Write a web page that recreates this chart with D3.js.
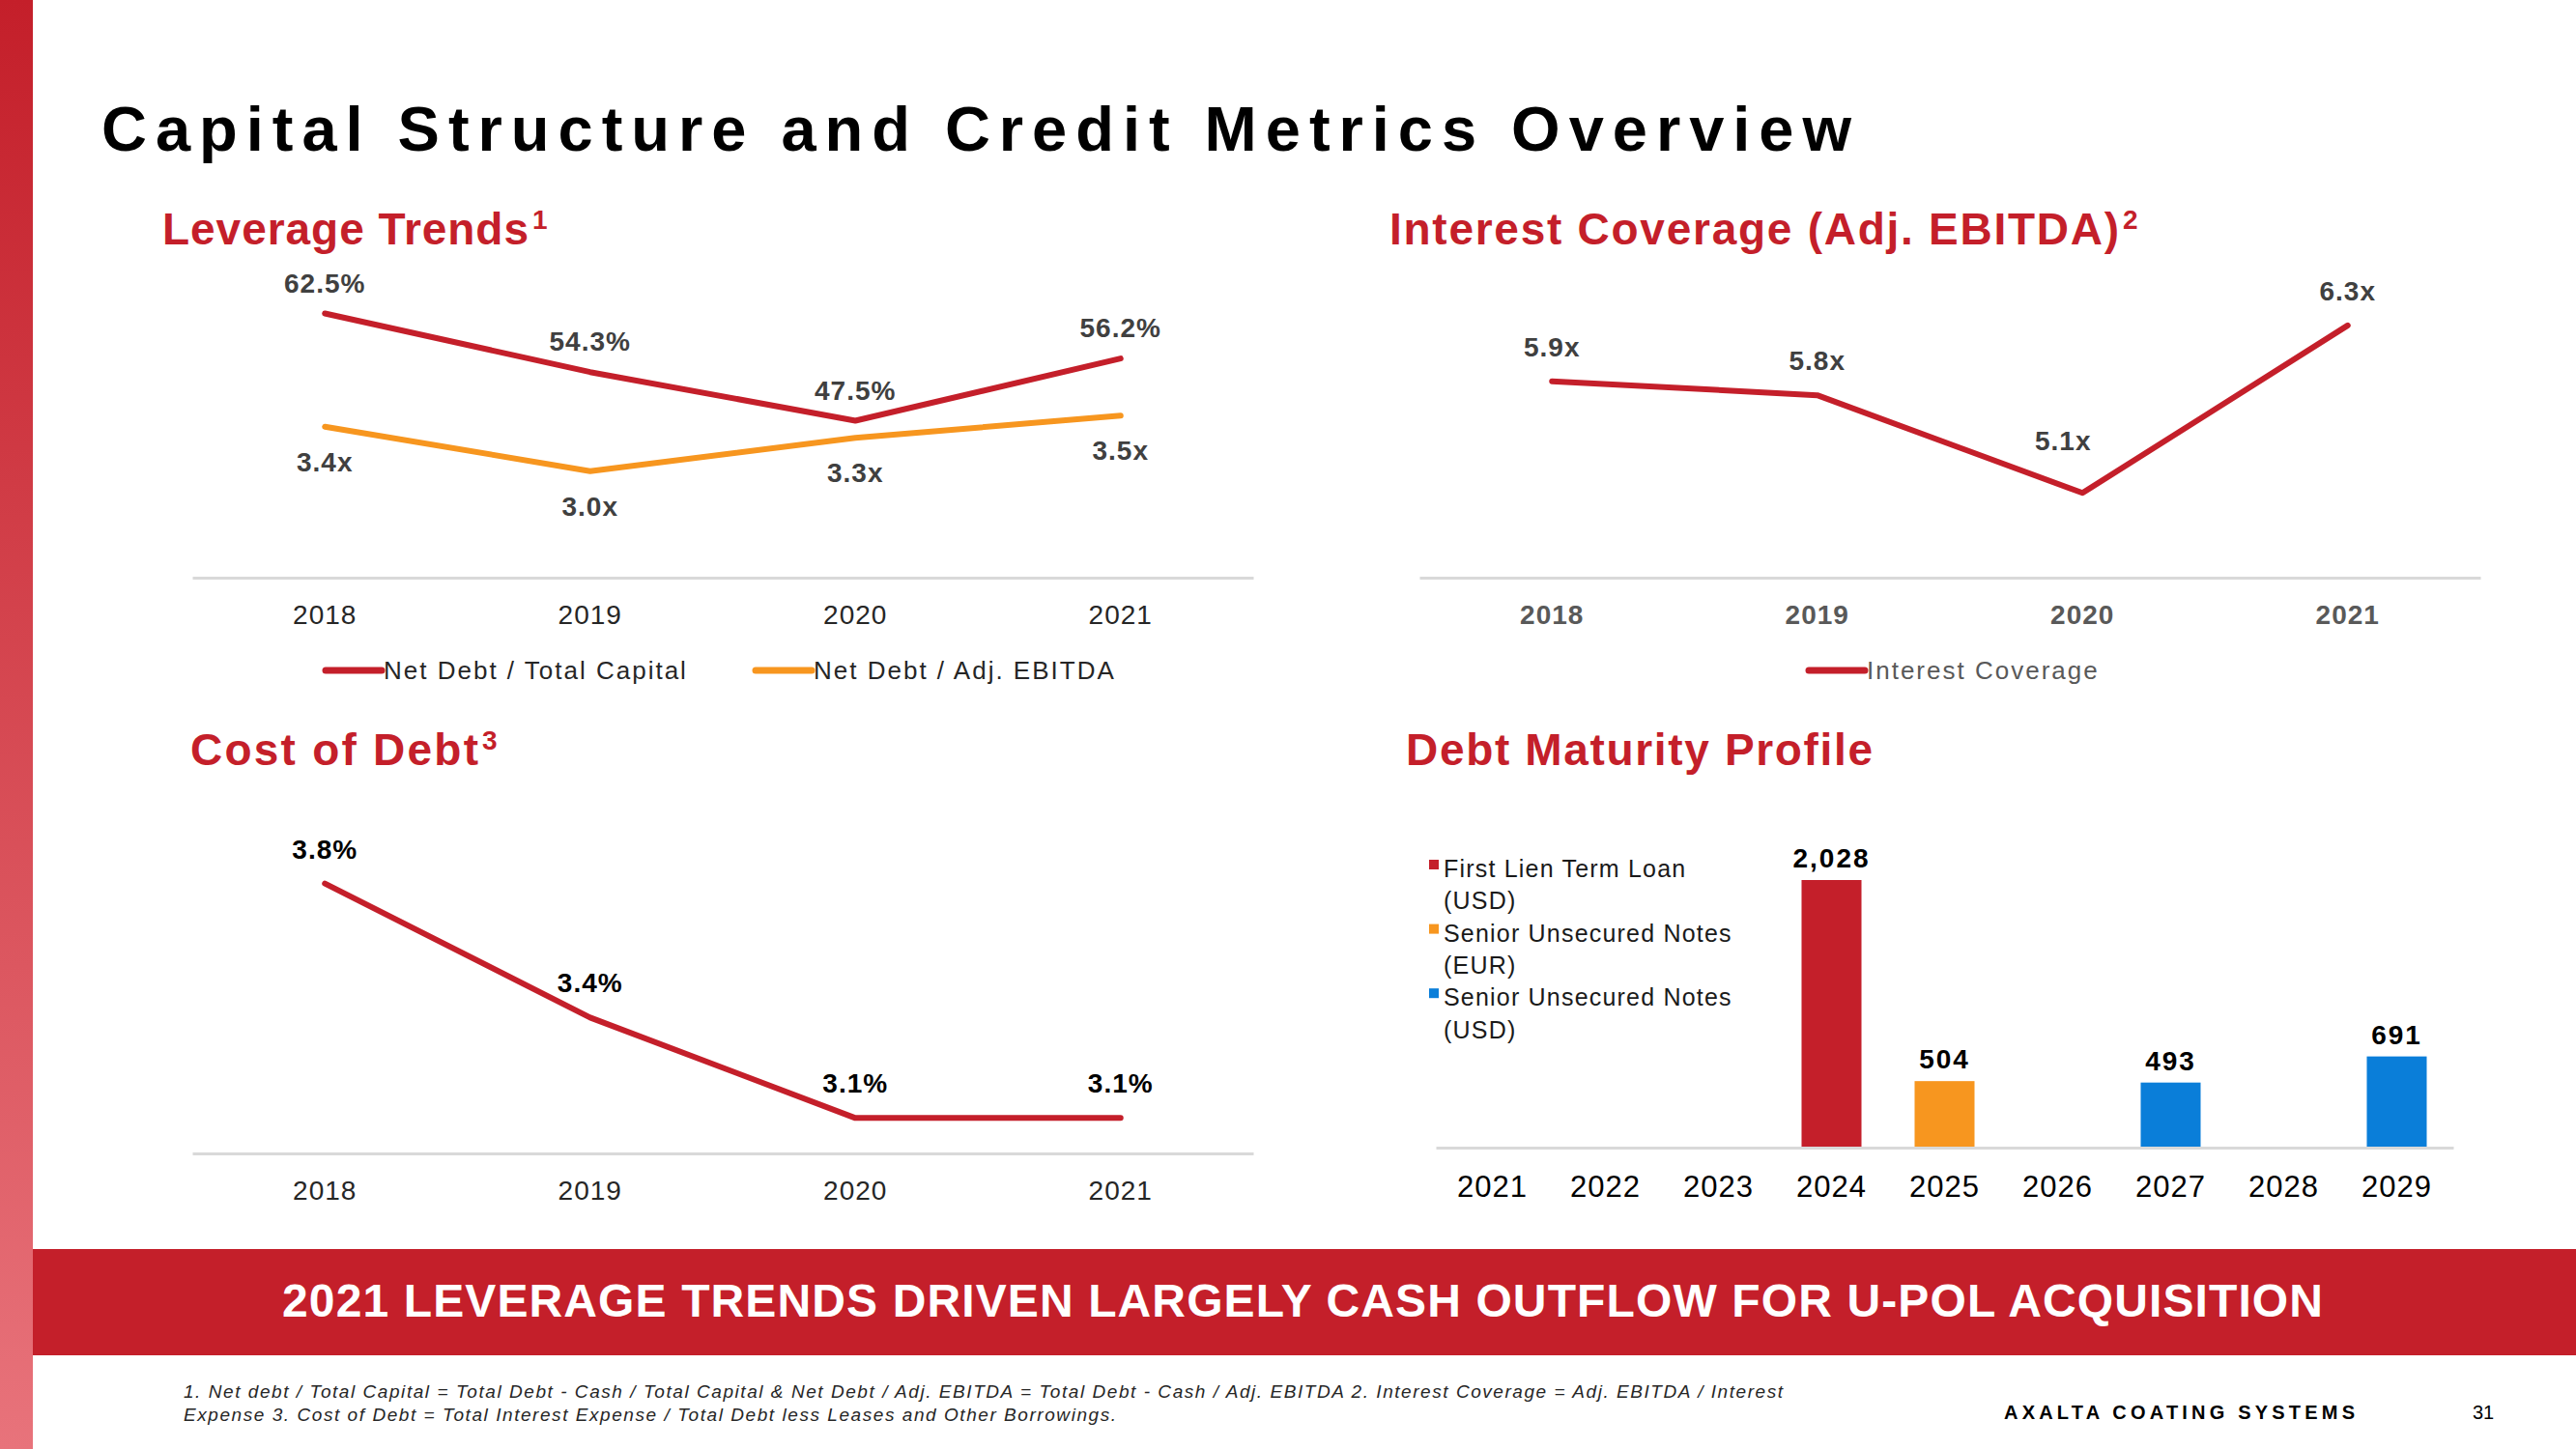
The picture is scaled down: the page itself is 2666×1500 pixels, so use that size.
<!DOCTYPE html>
<html>
  <script src='https://cdn.jsdelivr.net/npm/d3@7'></script>
  <style>
    body { margin: 0; background: #ffffff; }
  </style>
  <body onload='init()'>
<script>
      // ---------------------------
      // DATA
      // ---------------------------
      var years = ["2018", "2019", "2020", "2021"];
      var netDebtTotalCapital = [62.5, 54.3, 47.5, 56.2];
      var netDebtEbitda = [3.4, 3.0, 3.3, 3.5];
      var interestCoverage = [5.9, 5.8, 5.1, 6.3];
      var costOfDebt = [3.8, 3.4, 3.1, 3.1];

      var maturityYears = ["2021", "2022", "2023", "2024", "2025", "2026", "2027", "2028", "2029"];
      var maturityValues = [0, 0, 0, 2028, 504, 0, 493, 0, 691];
      var maturitySeriesIndex = [-1, -1, -1, 0, 1, -1, 2, -1, 2];
      var debtSeriesNames = [["First Lien Term Loan", "(USD)"], ["Senior Unsecured Notes", "(EUR)"], ["Senior Unsecured Notes", "(USD)"]];

      var leverageLegend = ["Net Debt / Total Capital", "Net Debt / Adj. EBITDA"];
      var coverageLegend = ["Interest Coverage"];

      function init() {

        // ---------------------------
        // CONSTANTS
        // ---------------------------
        var canvasWidth = 2666;
        var canvasHeight = 1500;
        var wideFont = "'Liberation Sans', Arial, sans-serif";
        var red = "#C41F2A";
        var orange = "#F7961F";
        var blue = "#0A7ED9";
        var debtColours = [red, orange, blue];
        var axisColour = "#d9d9d9";
        var lineWidth = 6;
        var labelSize = 28;

        var svg = d3.select("body")
          .append("svg")
          .attr("width", canvasWidth)
          .attr("height", canvasHeight)
          .style("font-family", wideFont);

        // the slide uses a condensed face, use the narrow one if it is there
        var probe = svg.append("text").attr("font-size", 40).attr("font-family", "monospace").text("Capital Structure");
        var w1 = probe.node().getComputedTextLength();
        probe.attr("font-family", "'Liberation Sans Narrow', monospace");
        var w2 = probe.node().getComputedTextLength();
        probe.remove();
        var hasNarrow = Math.abs(w1 - w2) > 1;
        var myFont = hasNarrow ? "'Liberation Sans Narrow', 'Liberation Sans', sans-serif" : wideFont;
        function sp(base, fs) { return hasNarrow ? base + 0.1 * fs : base; }

        // ---------------------------
        // PAGE FRAME
        // ---------------------------
        var grad = svg.append("defs").append("linearGradient")
          .attr("id", "side-grad")
          .attr("x1", 0).attr("y1", 0).attr("x2", 0).attr("y2", 1);
        grad.append("stop").attr("offset", "0%").attr("stop-color", "#C41F2A");
        grad.append("stop").attr("offset", "100%").attr("stop-color", "#E8737B");

        svg.append("rect")
          .attr("x", 0).attr("y", 0)
          .attr("width", 34).attr("height", canvasHeight)
          .attr("fill", "url(#side-grad)");

        svg.append("text")
          .attr("x", 105).attr("y", 156)
          .attr("font-size", 65)
          .attr("font-weight", "bold")
          .attr("font-family", myFont)
          .attr("fill", "#000")
          .attr("textLength", 1811)
          .attr("lengthAdjust", "spacing")
          .text("Capital Structure and Credit Metrics Overview");

        // section headers with superscript
        function header(x, y, label, width, sup) {
          svg.append("text")
            .attr("x", x).attr("y", y)
            .attr("font-size", 46)
            .attr("font-weight", "bold")
            .attr("font-family", myFont)
            .attr("fill", red)
            .attr("textLength", width)
            .attr("lengthAdjust", "spacing")
            .text(label);
          if (sup) {
            svg.append("text")
              .attr("x", x + width + 4).attr("y", y - 16)
              .attr("font-size", 28)
              .attr("font-weight", "bold")
              .attr("font-family", myFont)
              .attr("fill", red)
              .text(sup);
          }
        }
        header(168, 253, "Leverage Trends", 379, "1");
        header(1438, 253, "Interest Coverage (Adj. EBITDA)", 755, "2");
        header(197, 792, "Cost of Debt", 298, "3");
        header(1455, 792, "Debt Maturity Profile", 483, null);

        // helper: bottom axis with grey baseline
        function bottomAxis(scale, y, labelY, size, weight, colour) {
          var g = svg.append("g")
            .attr("transform", "translate(0," + y + ")")
            .call(d3.axisBottom(scale).tickSize(0).tickSizeOuter(0));
          g.select(".domain").attr("stroke", axisColour).attr("stroke-width", 3);
          g.selectAll("text")
            .attr("y", labelY)
            .attr("dy", 0)
            .attr("font-size", size)
            .attr("font-weight", weight)
            .attr("font-family", myFont)
            .attr("letter-spacing", sp(1, size))
            .attr("fill", colour);
          return g;
        }

        function drawLine(xs, ys, values, colour) {
          svg.append("path")
            .datum(values)
            .attr("fill", "none")
            .attr("stroke", colour)
            .attr("stroke-width", lineWidth)
            .attr("stroke-linecap", "round")
            .attr("stroke-linejoin", "round")
            .attr("d", d3.line()
              .x(function(d, i) { return xs(years[i]) + xs.bandwidth() / 2; })
              .y(function(d) { return ys(d); }));
        }

        function drawLabels(xs, ys, values, fmt, dy, colour) {
          svg.append("g")
            .selectAll("text")
            .data(values)
            .enter()
            .append("text")
            .attr("x", function(d, i) { return xs(years[i]) + xs.bandwidth() / 2; })
            .attr("y", function(d) { return ys(d) + dy; })
            .attr("text-anchor", "middle")
            .attr("font-size", labelSize)
            .attr("font-weight", "bold")
            .attr("font-family", myFont)
            .attr("letter-spacing", sp(1, labelSize))
            .attr("fill", colour)
            .text(fmt);
        }

        function legendItem(x, y, colour, label, textColour) {
          svg.append("line")
            .attr("x1", x).attr("x2", x + 58)
            .attr("y1", y).attr("y2", y)
            .attr("stroke", colour)
            .attr("stroke-width", 7)
            .attr("stroke-linecap", "round");
          svg.append("text")
            .attr("x", x + 60).attr("y", y + 9)
            .attr("font-size", 26)
            .attr("font-family", myFont)
            .attr("letter-spacing", sp(2, 26))
            .attr("fill", textColour)
            .text(label);
        }

        // ---------------------------
        // LEVERAGE TRENDS
        // ---------------------------
        var levX = d3.scaleBand().domain(years).range([199, 1297]);
        var levPctY = d3.scaleLinear().domain([40, 65]).range([491, 306]);
        var levMultY = d3.scaleLinear().domain([2.5, 4.0]).range([545, 373]);

        bottomAxis(levX, 598, 48, 28, "normal", "#262626");
        drawLine(levX, levPctY, netDebtTotalCapital, red);
        drawLine(levX, levMultY, netDebtEbitda, orange);
        drawLabels(levX, levPctY, netDebtTotalCapital, function(d) { return d.toFixed(1) + "%"; }, -22, "#404040");
        drawLabels(levX, levMultY, netDebtEbitda, function(d) { return d.toFixed(1) + "x"; }, 46, "#404040");

        legendItem(337, 694, red, leverageLegend[0], "#262626");
        legendItem(782, 694, orange, leverageLegend[1], "#262626");

        // ---------------------------
        // INTEREST COVERAGE
        // ---------------------------
        var covX = d3.scaleBand().domain(years).range([1469, 2567]);
        var covY = d3.scaleLinear().domain([4.5, 6.5]).range([597, 308]);
        var covMin = d3.min(interestCoverage);

        bottomAxis(covX, 598, 48, 28, "bold", "#595959");
        drawLine(covX, covY, interestCoverage, red);
        svg.append("g")
          .selectAll("text")
          .data(interestCoverage)
          .enter()
          .append("text")
          .attr("x", function(d, i) { return covX(years[i]) + covX.bandwidth() / 2 - (d === covMin ? 20 : 0); })
          .attr("y", function(d) { return covY(d) - (d === covMin ? 44 : 26); })
          .attr("text-anchor", "middle")
          .attr("font-size", labelSize)
          .attr("font-weight", "bold")
          .attr("font-family", myFont)
          .attr("letter-spacing", sp(1, labelSize))
          .attr("fill", "#404040")
          .text(function(d) { return d.toFixed(1) + "x"; });

        legendItem(1872, 694, red, coverageLegend[0], "#595959");

        // ---------------------------
        // COST OF DEBT
        // ---------------------------
        var costX = d3.scaleBand().domain(years).range([199, 1297]);
        var costY = d3.scaleLinear().domain([3.0, 3.9]).range([1192, 880]);

        bottomAxis(costX, 1194, 48, 28, "normal", "#262626");
        drawLine(costX, costY, costOfDebt, red);
        drawLabels(costX, costY, costOfDebt, function(d) { return d.toFixed(1) + "%"; }, -26, "#000");

        // ---------------------------
        // DEBT MATURITY PROFILE
        // ---------------------------
        var matX = d3.scaleBand().domain(maturityYears).range([1486, 2539])
          .paddingInner(0.47).paddingOuter(0.235);
        var matY = d3.scaleLinear().domain([0, 2028]).range([1188, 911]);

        var matData = maturityYears.map(function(y, i) {
          return { year: y, value: maturityValues[i], series: maturitySeriesIndex[i] };
        }).filter(function(d) { return d.value > 0; });

        svg.append("g")
          .selectAll("rect")
          .data(matData)
          .enter()
          .append("rect")
          .attr("x", function(d) { return matX(d.year); })
          .attr("y", function(d) { return matY(d.value); })
          .attr("width", matX.bandwidth())
          .attr("height", function(d) { return matY(0) - matY(d.value); })
          .attr("fill", function(d) { return debtColours[d.series]; });

        svg.append("g")
          .selectAll("text")
          .data(matData)
          .enter()
          .append("text")
          .attr("x", function(d) { return matX(d.year) + matX.bandwidth() / 2; })
          .attr("y", function(d) { return matY(d.value) - 13; })
          .attr("text-anchor", "middle")
          .attr("font-size", labelSize)
          .attr("font-weight", "bold")
          .attr("font-family", myFont)
          .attr("letter-spacing", sp(2, labelSize))
          .attr("fill", "#000")
          .text(function(d) { return d3.format(",")(d.value); });

        bottomAxis(matX, 1188, 51, 31, "normal", "#000");

        // legend (wrapped onto two lines each)
        var legendG = svg.append("g").attr("transform", "translate(1479,908)");
        debtSeriesNames.forEach(function(lines, i) {
          var y0 = i * 2 * 33.3;
          legendG.append("rect")
            .attr("x", 0).attr("y", y0 - 18)
            .attr("width", 10).attr("height", 10)
            .attr("fill", debtColours[i]);
          lines.forEach(function(t, j) {
            legendG.append("text")
              .attr("x", 15).attr("y", y0 + j * 33.3)
              .attr("font-size", 25)
              .attr("font-family", myFont)
              .attr("letter-spacing", sp(1.2, 25))
              .attr("fill", "#1a1a1a")
              .text(t);
          });
        });

        // ---------------------------
        // BANNER AND FOOTER
        // ---------------------------
        svg.append("rect")
          .attr("x", 34).attr("y", 1293)
          .attr("width", canvasWidth - 34).attr("height", 110)
          .attr("fill", red);

        svg.append("text")
          .attr("x", 292).attr("y", 1363)
          .attr("font-size", 48)
          .attr("font-weight", "bold")
          .attr("font-family", myFont)
          .attr("fill", "#fff")
          .attr("textLength", 2112)
          .attr("lengthAdjust", "spacing")
          .text("2021 LEVERAGE TRENDS DRIVEN LARGELY CASH OUTFLOW FOR U-POL ACQUISITION");

        svg.append("text")
          .attr("x", 190).attr("y", 1447)
          .attr("font-size", 19)
          .attr("font-style", "italic")
          .attr("font-family", myFont)
          .attr("fill", "#262626")
          .attr("textLength", 1655)
          .attr("lengthAdjust", "spacing")
          .text("1. Net debt / Total Capital = Total Debt - Cash / Total Capital & Net Debt / Adj. EBITDA = Total Debt - Cash / Adj. EBITDA 2. Interest Coverage = Adj. EBITDA / Interest");

        svg.append("text")
          .attr("x", 190).attr("y", 1471)
          .attr("font-size", 19)
          .attr("font-style", "italic")
          .attr("font-family", myFont)
          .attr("fill", "#262626")
          .attr("textLength", 965)
          .attr("lengthAdjust", "spacing")
          .text("Expense 3. Cost of Debt = Total Interest Expense / Total Debt less Leases and Other Borrowings.");

        svg.append("text")
          .attr("x", 2074).attr("y", 1469)
          .attr("font-size", 20)
          .attr("font-weight", "bold")
          .attr("fill", "#000")
          .attr("textLength", 363)
          .attr("lengthAdjust", "spacing")
          .text("AXALTA COATING SYSTEMS");

        svg.append("text")
          .attr("x", 2559).attr("y", 1469)
          .attr("font-size", 20)
          .attr("fill", "#000")
          .text("31");
      }
    </script>
  </body>
</html>
